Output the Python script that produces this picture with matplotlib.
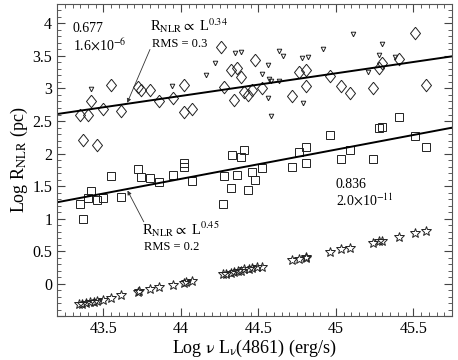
import matplotlib
matplotlib.use("Agg")
import matplotlib.pyplot as plt
import numpy as np
from matplotlib.ticker import MultipleLocator, FormatStrFormatter, FuncFormatter

plt.rcParams['font.family'] = ['Liberation Serif', 'DejaVu Serif']
plt.rcParams['mathtext.fontset'] = 'stix'

# diamonds
dia_x = [43.347, 43.40, 43.42, 43.50, 43.55, 43.61, 43.72, 43.74, 43.80, 43.86,
         43.95, 44.02, 44.02, 44.07, 43.37, 43.46, 44.26, 44.28, 44.32, 44.34,
         44.36, 44.39, 44.41, 44.43, 44.46, 44.48, 44.52, 44.72, 44.76, 44.81,
         44.81, 44.96, 45.03, 45.09, 45.24, 45.28, 45.30, 45.41, 45.51, 45.58]
dia_y = [2.60, 2.60, 2.81, 2.69, 3.06, 2.66, 3.02, 2.97, 2.97, 2.81,
         2.86, 3.06, 2.64, 2.69, 2.21, 2.13, 3.64, 3.02, 3.29, 2.83,
         3.31, 3.18, 2.95, 2.90, 2.98, 3.44, 3.01, 2.89, 3.25, 3.28,
         3.04, 3.19, 3.04, 2.93, 3.00, 3.31, 3.39, 3.46, 3.85, 3.06]

# small triangles
tri_x = [43.42, 43.94, 44.16, 44.22, 44.35, 44.39, 44.52, 44.56, 44.57, 44.58,
         44.56, 44.58, 44.63, 44.66, 44.63, 44.78, 44.82, 44.79, 44.92, 45.11,
         45.21, 45.28, 45.30, 45.38]
tri_y = [2.99, 3.04, 3.21, 3.39, 3.54, 3.56, 3.23, 3.36, 3.15, 3.12,
         2.86, 2.57, 3.57, 3.50, 3.11, 3.47, 3.49, 2.77, 3.60, 3.84,
         3.25, 3.51, 3.68, 3.48]

# squares
sq_x = [43.347, 43.37, 43.40, 43.42, 43.46, 43.50, 43.55, 43.61, 43.72, 43.74,
        43.80, 43.86, 43.95, 44.02, 44.02, 44.07, 44.27, 44.28, 44.32, 44.33,
        44.36, 44.39, 44.41, 44.43, 44.46, 44.48, 44.52, 44.72, 44.76, 44.81,
        44.81, 44.96, 45.03, 45.09, 45.24, 45.28, 45.30, 45.41, 45.51, 45.58]
sq_y = [1.23, 1.00, 1.32, 1.42, 1.28, 1.32, 1.65, 1.33, 1.76, 1.64,
        1.63, 1.56, 1.67, 1.85, 1.80, 1.58, 1.23, 1.65, 1.47, 1.97,
        1.67, 1.95, 2.05, 1.44, 1.72, 1.60, 1.77, 1.79, 2.02, 2.10,
        1.85, 2.29, 1.91, 2.05, 1.91, 2.39, 2.41, 2.56, 2.27, 2.10]

# stars
st_x = [43.342, 43.36, 43.385, 43.41, 43.44, 43.46, 43.50, 43.55, 43.61, 43.72,
        43.73, 43.80, 43.86, 43.95, 44.02, 44.03, 44.07, 44.27, 44.29, 44.32,
        44.34, 44.37, 44.39, 44.41, 44.44, 44.46, 44.49, 44.52, 44.72, 44.76,
        44.81, 44.81, 44.96, 45.03, 45.09, 45.24, 45.28, 45.30, 45.41, 45.51,
        45.58]
st_y = [-0.32, -0.31, -0.30, -0.29, -0.28, -0.27, -0.25, -0.22, -0.18, -0.13,
        -0.12, -0.09, -0.06, -0.02, 0.015, 0.03, 0.04, 0.14, 0.15, 0.17,
        0.18, 0.19, 0.20, 0.22, 0.23, 0.24, 0.25, 0.26, 0.37, 0.38,
        0.41, 0.40, 0.49, 0.53, 0.55, 0.63, 0.65, 0.66, 0.72, 0.77,
        0.81]

# fit lines: y = y0 + slope * (x - 43.2)
fit_up = (2.607, 0.348)
fit_lo = (1.25, 0.45)

fig = plt.figure(figsize=(4.58, 3.6), dpi=100)
ax = fig.add_axes([0.1245, 0.122, 0.8625, 0.867])

diamond = [(0, 1), (0.8, 0), (0, -1), (-0.8, 0), (0, 1)]
mk = dict(ls='none', mfc='none', mec='#222222', mew=0.7)
ax.plot(dia_x, dia_y, marker=diamond, ms=9, **mk)
ax.plot(sq_x, sq_y, marker='s', ms=6.3, **mk)
ax.plot(tri_x, tri_y, marker='v', ms=3.3, **mk)
ax.plot(st_x, st_y, marker='*', ms=7.5, **mk)

xl = np.array([43.2, 45.75])
for y0, b in (fit_up, fit_lo):
    ax.plot(xl, y0 + b * (xl - 43.2), color='black', lw=1.4)

ax.set_xlim(43.2, 45.75)
ax.set_ylim(-0.5, 4.3)
ax.xaxis.set_major_locator(MultipleLocator(0.5))
ax.xaxis.set_minor_locator(MultipleLocator(0.05))
ax.yaxis.set_major_locator(MultipleLocator(0.5))
ax.yaxis.set_minor_locator(MultipleLocator(0.1))
ax.yaxis.set_major_formatter(FuncFormatter(lambda v, p: '' if v < -0.01 else '%g' % v))
ax.xaxis.set_major_formatter(FormatStrFormatter('%g'))
ax.tick_params(which='both', direction='in', top=True, right=True, labelsize=11.5, color='#444444')
ax.tick_params(which='major', length=6, width=0.8)
ax.tick_params(which='minor', length=3, width=0.6)
for s in ax.spines.values():
    s.set_color('#555555')

ax.set_xlabel(r'Log $\mathrm{\nu}$ L$_{\mathrm{\nu}}$(4861) (erg/s)', fontsize=13, labelpad=1)
ax.set_ylabel(r'Log R$_{\mathrm{NLR}}$ (pc)', fontsize=13, labelpad=2)

fs = 10
ax.text(43.30, 3.93, '0.677', fontsize=fs, va='center')
ax.text(43.30, 3.67, r'1.6$\times$10$^{-6}$', fontsize=fs, va='center')
ax.text(43.80, 3.96, r'R$_{\mathrm{NLR}}$$\propto$ L$^{0.34}$', fontsize=fs + 0.5, va='center')
ax.text(43.81, 3.69, 'RMS = 0.3', fontsize=fs - 1, va='center')
ax.annotate('', xy=(43.653, 2.78), xytext=(43.80, 3.60),
            arrowprops=dict(arrowstyle='-|>', color='#333333', lw=0.6,
                            mutation_scale=6, shrinkA=0, shrinkB=0))

ax.text(43.75, 0.84, r'R$_{\mathrm{NLR}}$$\propto$ L$^{0.45}$', fontsize=fs + 0.5, va='center')
ax.text(43.76, 0.56, 'RMS = 0.2', fontsize=fs - 1, va='center')
ax.annotate('', xy=(43.655, 1.43), xytext=(43.76, 0.95),
            arrowprops=dict(arrowstyle='-|>', color='#333333', lw=0.6,
                            mutation_scale=6, shrinkA=0, shrinkB=0))

ax.text(45.0, 1.52, '0.836', fontsize=fs, va='center')
ax.text(45.0, 1.28, r'2.0$\times$10$^{-11}$', fontsize=fs, va='center')

fig.savefig('out.png', dpi=100)
